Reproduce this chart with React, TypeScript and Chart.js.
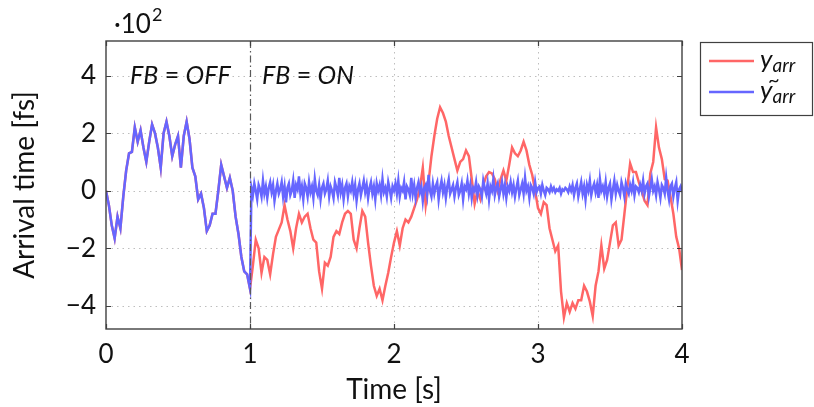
import React, { useEffect, useRef } from 'react';
import { Chart, registerables } from 'chart.js';

Chart.register(...registerables);

// ---------- data (values in units of 10^2 fs) ----------
const coarseStep = 0.02; // s, sampling used for the shared part and for y_arr
const fineStep = 0.01; // s, sampling used for y~_arr after the switch
const switchTime = 1; // FB switched on at t = 1 s

// 0 .. 1 s : identical for both traces (FB = OFF)
const sharedValues = [
  0.0, -0.5, -1.2, -1.65, -0.9, -1.3, -0.2, 0.7, 1.3, 1.35,
  2.2, 1.7, 2.1, 1.5, 1.0, 1.7, 2.3, 2.0, 1.5, 0.8,
  2.0, 2.4, 1.9, 1.2, 1.6, 1.9, 0.8, 1.9, 2.4, 1.8,
  0.8, 0.5, -0.3, -0.1, -0.6, -1.4, -1.2, -0.8, -0.8, 0.0,
  0.9, 0.5, 0.1, 0.45, 0.0, -0.9, -1.5, -2.3, -2.8, -2.9,
  -3.4,
];

// 1.02 .. 4.00 s (step 0.02) : y_arr
const redAfterValues = [
  -2.6, -1.7, -2.0, -2.85, -2.3, -2.4, -2.9, -2.2, -1.6, -1.35,
  -1.1, -0.5, -1.0, -1.4, -2.0, -1.3, -0.8, -1.1, -0.9, -0.8,
  -1.3, -1.7, -1.8, -2.8, -3.4, -2.5, -2.6, -2.3, -1.6, -1.4,
  -1.5, -1.1, -0.8, -0.7, -0.8, -1.7, -2.0, -1.3, -0.7, -0.9,
  -1.8, -2.6, -3.3, -3.65, -3.4, -3.8, -3.3, -2.85, -2.3, -1.8,
  -1.4, -1.9, -1.3, -1.0, -1.1, -0.9, -0.6, -0.3, 0.1, 0.8,
  -0.5, 0.3, 1.2, 1.9, 2.5, 2.9, 2.7, 2.4, 1.9, 1.5,
  1.1, 0.7, 1.0, 1.1, 1.4, 1.2, 0.4, -0.45, 0.0, -0.3,
  0.2, 0.5, 0.65, 0.6, 0.4, 0.0, 0.4, 0.7, 0.35, 0.9,
  1.5, 1.3, 1.2, 1.4, 1.7, 1.4, 0.9, 0.55, 0.0, -0.6,
  -0.8, -0.4, -0.5, -1.3, -1.7, -2.1, -1.9, -3.5, -4.4, -3.9,
  -4.2, -3.9, -4.1, -3.8, -3.8, -3.3, -3.5, -3.85, -4.35, -3.3,
  -2.8, -1.9, -2.7, -2.4, -1.8, -1.2, -1.1, -1.9, -1.7, -0.8,
  0.1, 0.95, 0.65, 0.65, 0.3, 0.0, -0.35, -0.5, 0.6, 1.0,
  2.2, 1.5, 1.1, 0.4, 0.35, -0.2, -0.8, -1.6, -2.0, -2.75,
];

// 1.01 .. 4.00 s (step 0.01) : y~_arr
const blueAfterValues = [
  0.1, -0.15, 0.25, 0.0, -0.3, 0.2, 0.05, -0.2, 0.35, -0.1, 0.15, -0.25, 0.1, 0.3, -0.05, 0.2, -0.35, 0.0, 0.25, -0.1,
  0.05, 0.3, -0.2, 0.15, -0.4, 0.1, 0.25, -0.15, 0.0, 0.35, -0.25, 0.2, 0.05, 0.5, -0.1, 0.15, -0.3, 0.25, 0.1, -0.2,
  0.3, -0.05, 0.15, -0.25, 0.4, 0.0, -0.15, 0.2, -0.3, 0.1, 0.25, -0.1, 0.05, 0.35, -0.2, 0.15, 0.0, -0.25, 0.3, 0.1,
  -0.15, 0.45, -0.05, 0.2, -0.3, 0.1, 0.25, -0.2, 0.15, 0.0, 0.3, -0.1, 0.2, -0.35, 0.05, 0.25, -0.15, 0.1, 0.35, -0.05,
  0.2, -0.25, 0.1, 0.3, -0.1, 0.15, -0.3, 0.25, 0.0, 0.2, -0.15, 0.4, -0.05, 0.1, -0.2, 0.3, 0.05, -0.25, 0.15, 0.0,
  0.25, -0.1, 0.35, -0.2, 0.1, 0.0, 0.3, -0.3, 0.15, 0.05, -0.15, 0.45, -0.1, 0.2, -0.25, 0.1, 0.3, -0.05, 0.15, -0.35,
  0.1, 0.2, -0.15, 0.55, 0.0, -0.2, 0.25, -0.1, 0.15, 0.3, -0.3, 0.1, 0.35, -0.05, 0.2, -0.25, 0.15, 0.4, -0.1, 0.05,
  0.2, -0.2, 0.1, 0.3, -0.15, 0.0, 0.25, -0.3, 0.15, 0.05, 0.35, -0.1, 0.2, -0.25, 0.1, 0.0, 0.3, -0.15, 0.15, 0.05,
  -0.2, 0.35, 0.1, -0.1, 0.25, -0.3, 0.15, 0.0, 0.4, -0.15, 0.1, 0.25, -0.2, 0.05, 0.3, -0.1, 0.2, -0.25, 0.15, 0.0,
  0.3, -0.05, 0.2, -0.2, 0.1, 0.35, -0.15, 0.05, 0.25, -0.1, 0.45, 0.0, 0.15, -0.25, 0.2, 0.1, -0.1, 0.3, -0.05, 0.1,
  0.15, -0.1, 0.2, 0.0, -0.15, 0.1, 0.05, -0.05, 0.15, 0.0, 0.1, -0.05, 0.05, 0.0, 0.1, -0.1, 0.05, 0.0, 0.1, 0.05,
  -0.05, 0.15, 0.0, 0.2, -0.15, 0.1, 0.25, -0.2, 0.05, 0.3, -0.1, 0.15, -0.3, 0.2, 0.0, 0.35, -0.15, 0.1, 0.25, -0.05,
  0.2, -0.25, 0.4, 0.0, 0.15, -0.1, 0.3, -0.2, 0.1, 0.25, -0.3, 0.05, 0.35, -0.1, 0.2, 0.0, -0.15, 0.3, 0.1, -0.2,
  0.25, 0.05, -0.1, 0.2, 0.0, 0.3, -0.15, 0.15, 0.1, -0.05, 0.2, 0.0, 0.35, -0.1, 0.15, 0.25, -0.2, 0.1, 0.4, 0.0,
  0.15, -0.15, 0.3, 0.05, -0.25, 0.2, 0.1, -0.1, 0.45, 0.0, -0.3, 0.15, 0.25, -0.2, 0.1, 0.3, -0.35, 0.05, 0.15, -0.05,
];

const r2 = (v: number) => Math.round(v * 100) / 100;
const sharedTimes = sharedValues.map((_, i) => r2(i * coarseStep));
const redTimes = [...sharedTimes, ...redAfterValues.map((_, i) => r2(switchTime + (i + 1) * coarseStep))];
const redValues = [...sharedValues, ...redAfterValues];
const blueTimes = [...sharedTimes, ...blueAfterValues.map((_, i) => r2(switchTime + (i + 1) * fineStep))];
const blueValues = [...sharedValues, ...blueAfterValues];

const xTicks = [0, 1, 2, 3, 4];
const yTicks = [-4, -2, 0, 2, 4];
const xRange = [0, 4];
const yRange = [-4.8, 5.2];

const RED = 'rgb(255,102,102)';
const BLUE = 'rgb(102,102,255)';
const FONT = 'Lato, "DejaVu Sans", sans-serif';
const TEXT = '#111';

function drawSegments(ctx: CanvasRenderingContext2D, parts: { t: string; it: boolean }[], x: number, y: number, size: number) {
  let cx = x;
  for (const p of parts) {
    ctx.font = `${p.it ? 'italic ' : ''}${size}px ${FONT}`;
    ctx.fillText(p.t, cx, y);
    cx += ctx.measureText(p.t).width;
  }
}

const decorPlugin = {
  id: 'decor',
  beforeDatasetsDraw(chart: any) {
    const { ctx, chartArea: a, scales } = chart;
    const x = scales.x, y = scales.y;
    ctx.save();
    ctx.strokeStyle = 'rgb(190,190,190)';
    ctx.lineWidth = 1;
    ctx.setLineDash([1.5, 4]);
    for (const v of yTicks) {
      const py = Math.round(y.getPixelForValue(v)) + 0.5;
      ctx.beginPath(); ctx.moveTo(a.left, py); ctx.lineTo(a.right, py); ctx.stroke();
    }
    for (const v of xTicks) {
      if (v === switchTime || v === xRange[0] || v === xRange[1]) continue;
      const px = Math.round(x.getPixelForValue(v)) + 0.5;
      ctx.beginPath(); ctx.moveTo(px, a.top); ctx.lineTo(px, a.bottom); ctx.stroke();
    }
    ctx.restore();
  },
  afterDatasetsDraw(chart: any) {
    const { ctx, chartArea: a, scales } = chart;
    const x = scales.x, y = scales.y;
    ctx.save();
    // FB switch line (dash-dot)
    const sx = Math.round(x.getPixelForValue(switchTime)) + 0.5;
    ctx.strokeStyle = 'rgb(90,90,90)';
    ctx.lineWidth = 1.2;
    ctx.setLineDash([7, 3, 1.5, 3]);
    ctx.beginPath(); ctx.moveTo(sx, a.top); ctx.lineTo(sx, a.bottom); ctx.stroke();
    ctx.setLineDash([]);

    // frame
    ctx.strokeStyle = 'rgb(64,64,64)';
    ctx.lineWidth = 1.4;
    ctx.strokeRect(a.left, a.top, a.right - a.left, a.bottom - a.top);

    // inner tick marks
    ctx.lineWidth = 1.2;
    const tl = 5;
    for (const v of yTicks) {
      const py = Math.round(y.getPixelForValue(v)) + 0.5;
      ctx.beginPath();
      ctx.moveTo(a.left, py); ctx.lineTo(a.left + tl, py);
      ctx.moveTo(a.right, py); ctx.lineTo(a.right - tl, py);
      ctx.stroke();
    }
    for (const v of xTicks) {
      const px = Math.round(x.getPixelForValue(v)) + 0.5;
      ctx.beginPath();
      ctx.moveTo(px, a.bottom); ctx.lineTo(px, a.bottom - tl);
      ctx.moveTo(px, a.top); ctx.lineTo(px, a.top + tl);
      ctx.stroke();
    }

    // annotations
    ctx.fillStyle = TEXT;
    ctx.textBaseline = 'alphabetic';
    ctx.textAlign = 'left';
    const annY = 84;
    drawSegments(ctx, [{ t: 'FB', it: true }, { t: ' = ', it: false }, { t: 'OFF', it: true }], 130, annY, 25);
    drawSegments(ctx, [{ t: 'FB', it: true }, { t: ' = ', it: false }, { t: 'ON', it: true }], 262, annY, 25);

    // exponent
    ctx.font = `26px ${FONT}`;
    ctx.fillText('·10', 114, 33);
    const ew = ctx.measureText('·10').width;
    ctx.font = `18px ${FONT}`;
    ctx.fillText('2', 114 + ew + 1, 21);

    // legend
    const lx = 700, ly = 42, lw = 112, lh = 73;
    ctx.fillStyle = '#fff';
    ctx.fillRect(lx, ly, lw, lh);
    ctx.strokeStyle = 'rgb(64,64,64)';
    ctx.lineWidth = 1.2;
    ctx.strokeRect(lx + 0.5, ly + 0.5, lw, lh);
    const rows = [
      { c: RED, yy: 61, tilde: false },
      { c: BLUE, yy: 92, tilde: true },
    ];
    for (const r of rows) {
      ctx.strokeStyle = r.c;
      ctx.lineWidth = 2.5;
      ctx.beginPath(); ctx.moveTo(709, r.yy); ctx.lineTo(754, r.yy); ctx.stroke();
      ctx.fillStyle = TEXT;
      ctx.font = `italic 26px ${FONT}`;
      ctx.fillText('y', 760, r.yy + 7);
      const yw = ctx.measureText('y').width;
      ctx.font = `italic 19px ${FONT}`;
      ctx.fillText('arr', 760 + yw, r.yy + 11);
      if (r.tilde) {
        ctx.font = `20px ${FONT}`;
        ctx.fillText('~', 768, r.yy - 5);
      }
    }
    ctx.restore();
  },
};

export default function App() {
  const ref = useRef<HTMLCanvasElement | null>(null);
  useEffect(() => {
    const canvas = ref.current;
    if (!canvas) return;
    const chart = new Chart(canvas, {
      type: 'line',
      data: {
        datasets: [
          {
            label: 'y_arr',
            data: redTimes.map((t, i) => ({ x: t, y: redValues[i] })),
            borderColor: RED,
            backgroundColor: RED,
            borderWidth: 2.5,
            pointRadius: 0,
            tension: 0,
            order: 2,
          },
          {
            label: 'y~_arr',
            data: blueTimes.map((t, i) => ({ x: t, y: blueValues[i] })),
            borderColor: BLUE,
            backgroundColor: BLUE,
            borderWidth: 2.5,
            pointRadius: 0,
            tension: 0,
            order: 1,
          },
        ],
      },
      options: {
        animation: false,
        responsive: false,
        devicePixelRatio: 1,
        layout: { padding: { left: 0, top: 41, right: 132, bottom: 0 } },
        plugins: { legend: { display: false }, tooltip: { enabled: false } },
        scales: {
          x: {
            type: 'linear',
            min: xRange[0],
            max: xRange[1],
            grid: { display: false, drawTicks: false },
            border: { display: false },
            afterBuildTicks: (s: any) => { s.ticks = xTicks.map((v) => ({ value: v })); },
            afterFit: (s: any) => { s.height = 78; },
            ticks: {
              color: TEXT,
              font: { family: FONT, size: 26 },
              padding: 10,
              maxRotation: 0,
              callback: (v: any) => String(v),
            },
            title: {
              display: true,
              text: 'Time [s]',
              color: TEXT,
              font: { family: FONT, size: 28 },
              padding: { top: 0, bottom: 0 },
            },
          },
          y: {
            type: 'linear',
            min: yRange[0],
            max: yRange[1],
            grid: { display: false, drawTicks: false },
            border: { display: false },
            afterBuildTicks: (s: any) => { s.ticks = yTicks.map((v) => ({ value: v })); },
            afterFit: (s: any) => { s.width = 106; },
            ticks: {
              color: TEXT,
              font: { family: FONT, size: 26 },
              padding: 10,
              callback: (v: any) => (Number(v) < 0 ? '\u2212' + Math.abs(Number(v)) : String(v)),
            },
            title: {
              display: true,
              text: 'Arrival time [fs]',
              color: TEXT,
              font: { family: FONT, size: 28 },
              padding: { top: 8, bottom: 0 },
            },
          },
        },
      },
      plugins: [decorPlugin],
    });
    return () => chart.destroy();
  }, []);
  return (
    <div style={{ position: 'fixed', left: 0, top: 0, width: 814, height: 407, background: '#fff' }}>
      <canvas ref={ref} width={814} height={407} style={{ width: 814, height: 407, display: 'block' }} />
    </div>
  );
}
